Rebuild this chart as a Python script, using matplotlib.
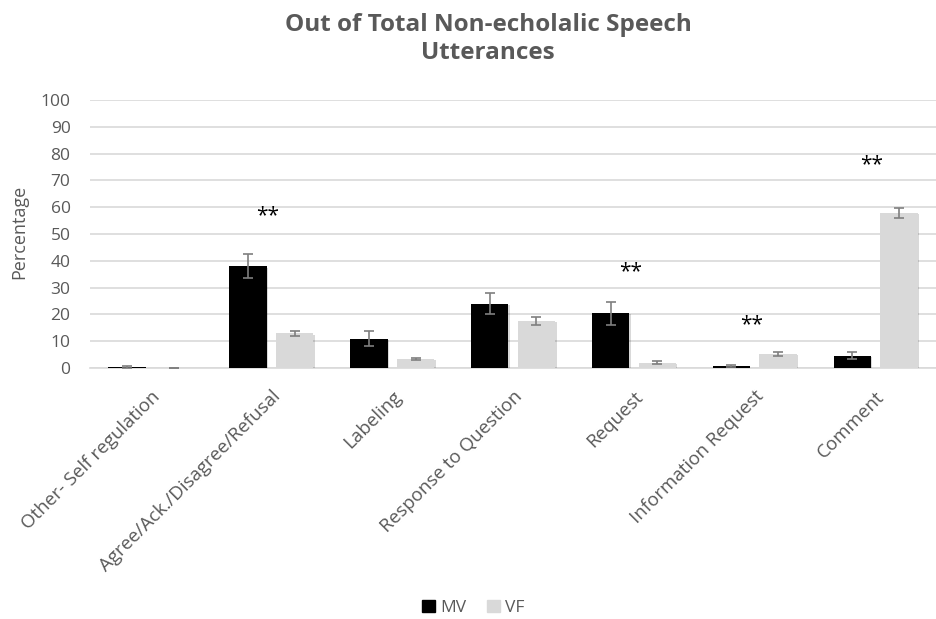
import numpy as np
import matplotlib.pyplot as plt
import matplotlib.patheffects as pe
from matplotlib.patches import Patch

plt.rcParams['font.family'] = ['Open Sans', 'DejaVu Sans']

# values per category
categories = ["Other- Self regulation", "Agree/Ack./Disagree/Refusal", "Labeling",
              "Response to Question", "Request", "Information Request", "Comment"]
mv = [0.4, 38, 11, 24, 20.5, 0.7, 4.5]
mv_err = [0.4, 4.5, 2.8, 3.9, 4.3, 0.4, 1.3]
vf = [0, 13, 3.4, 17.5, 2, 5.2, 57.8]
vf_err = [0, 0.9, 0.5, 1.5, 0.5, 0.9, 2.0]
# significance marks: category index -> height
stars_idx = [1, 4, 5, 6]
stars_y = [57, 36, 16, 76]

grey_text = "#595959"
fig = plt.figure(figsize=(9.37, 6.19), dpi=100)
ax = fig.add_axes([0.0961, 0.4055, 0.9029, 0.433])

x = np.arange(len(categories))
w = 0.31
off = 0.193
shadow = [pe.SimplePatchShadow(offset=(1, -1), shadow_rgbFace="#000000", alpha=0.15), pe.Normal()]
ekw = dict(ecolor="#7f7f7f", capsize=3.5, elinewidth=1.2, capthick=1.2)
b1 = ax.bar(x - off, mv, w, color="black", zorder=3, yerr=mv_err, error_kw=ekw)
b2 = ax.bar(x + off, vf, w, color="#d9d9d9", zorder=3, yerr=vf_err, error_kw=ekw)
for b in list(b1) + list(b2):
    b.set_path_effects(shadow)

for i, yy in zip(stars_idx, stars_y):
    ax.text(x[i] - 0.03, yy, "**", ha="center", va="center", fontsize=15, color="black")

ax.set_ylim(0, 100)
ax.set_xlim(-0.5, len(categories) - 0.5)
ax.set_yticks(range(0, 101, 10))
ax.yaxis.grid(True, color="#d9d9d9", linewidth=1.2, zorder=0)
ax.set_axisbelow(True)
for s in ["top", "right", "left"]:
    ax.spines[s].set_visible(False)
ax.spines["bottom"].set_color("#d9d9d9")
ax.spines["bottom"].set_linewidth(1.2)
ax.tick_params(axis="both", length=0, labelsize=12.5, labelcolor=grey_text)
ax.tick_params(axis="y", pad=14)
ax.set_xticks(x)
ax.set_xticklabels(categories, rotation=45, ha="right", va="top", rotation_mode="anchor",
                   fontsize=13.5)
ax.tick_params(axis="x", pad=14)
fig.text(0.021, 0.625, "Percentage", rotation=90, ha="center", va="center",
         fontsize=13, color=grey_text)

fig.suptitle("Out of Total Non-echolalic Speech\nUtterances", x=0.521, y=0.979,
             fontsize=17.5, fontweight="bold", color=grey_text, linespacing=1.25)

handles = [Patch(color="black", label="MV"), Patch(color="#d9d9d9", label="VF")]
fig.legend(handles=handles, loc="center", bbox_to_anchor=(0.505, 0.018), ncol=2,
           frameon=False, fontsize=12.5, labelcolor=grey_text,
           handlelength=0.75, handleheight=0.75, handletextpad=0.3, columnspacing=1.2)

fig.savefig("out.png", dpi=100)
